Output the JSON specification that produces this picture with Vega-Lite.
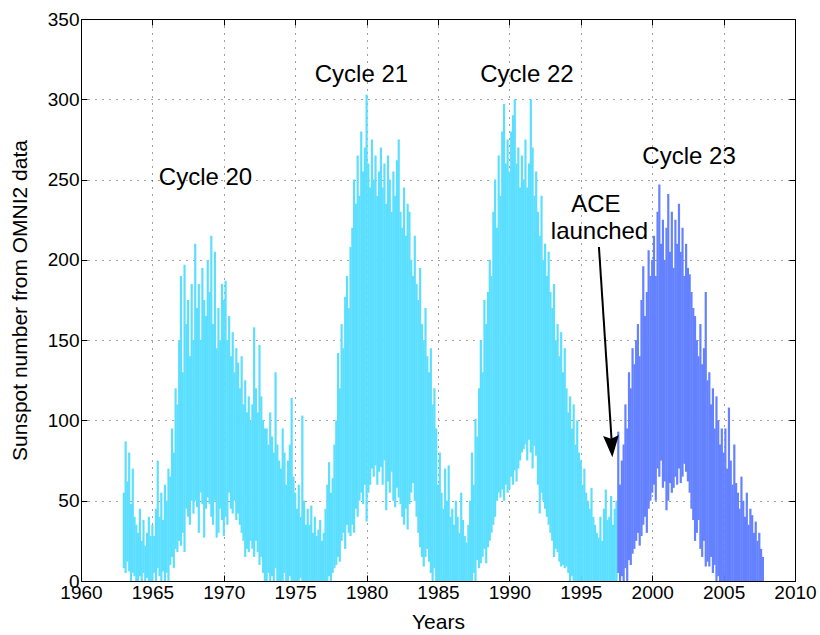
{
  "$schema": "https://vega.github.io/schema/vega-lite/v6.json",
  "width": 714,
  "height": 562,
  "autosize": "none",
  "padding": {"left": 81, "top": 19, "right": 25, "bottom": 54},
  "background": "#ffffff",
  "datasets": {
    "ssn": [
      {"t":1963.0,"lo":8,"hi":55,"s":"pre"},{"t":1963.125,"lo":5,"hi":87,"s":"pre"},{"t":1963.25,"lo":12,"hi":62,"s":"pre"},{"t":1963.375,"lo":6,"hi":80,"s":"pre"},{"t":1963.5,"lo":0,"hi":48,"s":"pre"},{"t":1963.625,"lo":5,"hi":70,"s":"pre"},{"t":1963.75,"lo":3,"hi":40,"s":"pre"},{"t":1963.875,"lo":0,"hi":35,"s":"pre"},
      {"t":1964.0,"lo":0,"hi":30,"s":"pre"},{"t":1964.125,"lo":3,"hi":45,"s":"pre"},{"t":1964.25,"lo":0,"hi":25,"s":"pre"},{"t":1964.375,"lo":5,"hi":38,"s":"pre"},{"t":1964.5,"lo":0,"hi":22,"s":"pre"},{"t":1964.625,"lo":2,"hi":30,"s":"pre"},{"t":1964.75,"lo":0,"hi":40,"s":"pre"},{"t":1964.875,"lo":0,"hi":28,"s":"pre"},
      {"t":1965.0,"lo":0,"hi":35,"s":"pre"},{"t":1965.125,"lo":5,"hi":28,"s":"pre"},{"t":1965.25,"lo":0,"hi":45,"s":"pre"},{"t":1965.375,"lo":8,"hi":75,"s":"pre"},{"t":1965.5,"lo":3,"hi":40,"s":"pre"},{"t":1965.625,"lo":0,"hi":55,"s":"pre"},{"t":1965.75,"lo":6,"hi":38,"s":"pre"},{"t":1965.875,"lo":0,"hi":60,"s":"pre"},
      {"t":1966.0,"lo":5,"hi":50,"s":"pre"},{"t":1966.125,"lo":0,"hi":70,"s":"pre"},{"t":1966.25,"lo":10,"hi":65,"s":"pre"},{"t":1966.375,"lo":15,"hi":95,"s":"pre"},{"t":1966.5,"lo":8,"hi":80,"s":"pre"},{"t":1966.625,"lo":20,"hi":120,"s":"pre"},{"t":1966.75,"lo":18,"hi":110,"s":"pre"},{"t":1966.875,"lo":25,"hi":150,"s":"pre"},
      {"t":1967.0,"lo":22,"hi":190,"s":"pre"},{"t":1967.125,"lo":30,"hi":130,"s":"pre"},{"t":1967.25,"lo":18,"hi":197,"s":"pre"},{"t":1967.375,"lo":45,"hi":160,"s":"pre"},{"t":1967.5,"lo":40,"hi":175,"s":"pre"},{"t":1967.625,"lo":35,"hi":140,"s":"pre"},{"t":1967.75,"lo":50,"hi":185,"s":"pre"},{"t":1967.875,"lo":42,"hi":150,"s":"pre"},
      {"t":1968.0,"lo":50,"hi":210,"s":"pre"},{"t":1968.125,"lo":46,"hi":170,"s":"pre"},{"t":1968.25,"lo":30,"hi":185,"s":"pre"},{"t":1968.375,"lo":55,"hi":150,"s":"pre"},{"t":1968.5,"lo":48,"hi":195,"s":"pre"},{"t":1968.625,"lo":27,"hi":175,"s":"pre"},{"t":1968.75,"lo":45,"hi":165,"s":"pre"},{"t":1968.875,"lo":52,"hi":200,"s":"pre"},
      {"t":1969.0,"lo":48,"hi":180,"s":"pre"},{"t":1969.125,"lo":40,"hi":215,"s":"pre"},{"t":1969.25,"lo":35,"hi":160,"s":"pre"},{"t":1969.375,"lo":50,"hi":205,"s":"pre"},{"t":1969.5,"lo":27,"hi":145,"s":"pre"},{"t":1969.625,"lo":30,"hi":170,"s":"pre"},{"t":1969.75,"lo":45,"hi":150,"s":"pre"},{"t":1969.875,"lo":38,"hi":185,"s":"pre"},
      {"t":1970.0,"lo":28,"hi":175,"s":"pre"},{"t":1970.125,"lo":40,"hi":187,"s":"pre"},{"t":1970.25,"lo":35,"hi":150,"s":"pre"},{"t":1970.375,"lo":55,"hi":165,"s":"pre"},{"t":1970.5,"lo":45,"hi":140,"s":"pre"},{"t":1970.625,"lo":42,"hi":155,"s":"pre"},{"t":1970.75,"lo":50,"hi":130,"s":"pre"},{"t":1970.875,"lo":38,"hi":145,"s":"pre"},
      {"t":1971.0,"lo":42,"hi":136,"s":"pre"},{"t":1971.125,"lo":35,"hi":120,"s":"pre"},{"t":1971.25,"lo":30,"hi":140,"s":"pre"},{"t":1971.375,"lo":25,"hi":110,"s":"pre"},{"t":1971.5,"lo":15,"hi":125,"s":"pre"},{"t":1971.625,"lo":20,"hi":105,"s":"pre"},{"t":1971.75,"lo":18,"hi":115,"s":"pre"},{"t":1971.875,"lo":25,"hi":100,"s":"pre"},
      {"t":1972.0,"lo":20,"hi":110,"s":"pre"},{"t":1972.125,"lo":15,"hi":158,"s":"pre"},{"t":1972.25,"lo":25,"hi":120,"s":"pre"},{"t":1972.375,"lo":18,"hi":105,"s":"pre"},{"t":1972.5,"lo":10,"hi":147,"s":"pre"},{"t":1972.625,"lo":15,"hi":115,"s":"pre"},{"t":1972.75,"lo":5,"hi":100,"s":"pre"},{"t":1972.875,"lo":0,"hi":95,"s":"pre"},
      {"t":1973.0,"lo":0,"hi":95,"s":"pre"},{"t":1973.125,"lo":5,"hi":85,"s":"pre"},{"t":1973.25,"lo":0,"hi":105,"s":"pre"},{"t":1973.375,"lo":3,"hi":90,"s":"pre"},{"t":1973.5,"lo":0,"hi":80,"s":"pre"},{"t":1973.625,"lo":8,"hi":130,"s":"pre"},{"t":1973.75,"lo":0,"hi":85,"s":"pre"},{"t":1973.875,"lo":0,"hi":75,"s":"pre"},
      {"t":1974.0,"lo":0,"hi":70,"s":"pre"},{"t":1974.125,"lo":0,"hi":95,"s":"pre"},{"t":1974.25,"lo":5,"hi":80,"s":"pre"},{"t":1974.375,"lo":0,"hi":60,"s":"pre"},{"t":1974.5,"lo":0,"hi":75,"s":"pre"},{"t":1974.625,"lo":3,"hi":85,"s":"pre"},{"t":1974.75,"lo":0,"hi":114,"s":"pre"},{"t":1974.875,"lo":0,"hi":65,"s":"pre"},
      {"t":1975.0,"lo":0,"hi":55,"s":"pre"},{"t":1975.125,"lo":0,"hi":45,"s":"pre"},{"t":1975.25,"lo":0,"hi":60,"s":"pre"},{"t":1975.375,"lo":2,"hi":40,"s":"pre"},{"t":1975.5,"lo":0,"hi":103,"s":"pre"},{"t":1975.625,"lo":0,"hi":50,"s":"pre"},{"t":1975.75,"lo":0,"hi":35,"s":"pre"},{"t":1975.875,"lo":0,"hi":45,"s":"pre"},
      {"t":1976.0,"lo":0,"hi":35,"s":"pre"},{"t":1976.125,"lo":0,"hi":47,"s":"pre"},{"t":1976.25,"lo":0,"hi":30,"s":"pre"},{"t":1976.375,"lo":0,"hi":40,"s":"pre"},{"t":1976.5,"lo":0,"hi":28,"s":"pre"},{"t":1976.625,"lo":0,"hi":32,"s":"pre"},{"t":1976.75,"lo":0,"hi":38,"s":"pre"},{"t":1976.875,"lo":0,"hi":25,"s":"pre"},
      {"t":1977.0,"lo":0,"hi":30,"s":"pre"},{"t":1977.125,"lo":0,"hi":45,"s":"pre"},{"t":1977.25,"lo":0,"hi":60,"s":"pre"},{"t":1977.375,"lo":3,"hi":74,"s":"pre"},{"t":1977.5,"lo":0,"hi":55,"s":"pre"},{"t":1977.625,"lo":5,"hi":64,"s":"pre"},{"t":1977.75,"lo":8,"hi":85,"s":"pre"},{"t":1977.875,"lo":10,"hi":100,"s":"pre"},
      {"t":1978.0,"lo":15,"hi":142,"s":"pre"},{"t":1978.125,"lo":12,"hi":120,"s":"pre"},{"t":1978.25,"lo":25,"hi":160,"s":"pre"},{"t":1978.375,"lo":30,"hi":145,"s":"pre"},{"t":1978.5,"lo":20,"hi":177,"s":"pre"},{"t":1978.625,"lo":35,"hi":190,"s":"pre"},{"t":1978.75,"lo":30,"hi":170,"s":"pre"},{"t":1978.875,"lo":28,"hi":208,"s":"pre"},
      {"t":1979.0,"lo":35,"hi":220,"s":"pre"},{"t":1979.125,"lo":30,"hi":250,"s":"pre"},{"t":1979.25,"lo":45,"hi":235,"s":"pre"},{"t":1979.375,"lo":40,"hi":265,"s":"pre"},{"t":1979.5,"lo":50,"hi":240,"s":"pre"},{"t":1979.625,"lo":55,"hi":280,"s":"pre"},{"t":1979.75,"lo":48,"hi":255,"s":"pre"},{"t":1979.875,"lo":60,"hi":270,"s":"pre"},
      {"t":1980.0,"lo":37,"hi":303,"s":"pre"},{"t":1980.125,"lo":55,"hi":260,"s":"pre"},{"t":1980.25,"lo":60,"hi":245,"s":"pre"},{"t":1980.375,"lo":70,"hi":275,"s":"pre"},{"t":1980.5,"lo":65,"hi":250,"s":"pre"},{"t":1980.625,"lo":72,"hi":265,"s":"pre"},{"t":1980.75,"lo":60,"hi":240,"s":"pre"},{"t":1980.875,"lo":68,"hi":255,"s":"pre"},
      {"t":1981.0,"lo":71,"hi":270,"s":"pre"},{"t":1981.125,"lo":60,"hi":245,"s":"pre"},{"t":1981.25,"lo":75,"hi":260,"s":"pre"},{"t":1981.375,"lo":44,"hi":235,"s":"pre"},{"t":1981.5,"lo":62,"hi":265,"s":"pre"},{"t":1981.625,"lo":55,"hi":250,"s":"pre"},{"t":1981.75,"lo":68,"hi":230,"s":"pre"},{"t":1981.875,"lo":50,"hi":255,"s":"pre"},
      {"t":1982.0,"lo":46,"hi":240,"s":"pre"},{"t":1982.125,"lo":58,"hi":262,"s":"pre"},{"t":1982.25,"lo":52,"hi":275,"s":"pre"},{"t":1982.375,"lo":48,"hi":230,"s":"pre"},{"t":1982.5,"lo":40,"hi":220,"s":"pre"},{"t":1982.625,"lo":35,"hi":245,"s":"pre"},{"t":1982.75,"lo":45,"hi":215,"s":"pre"},{"t":1982.875,"lo":32,"hi":235,"s":"pre"},
      {"t":1983.0,"lo":48,"hi":230,"s":"pre"},{"t":1983.125,"lo":55,"hi":200,"s":"pre"},{"t":1983.25,"lo":61,"hi":190,"s":"pre"},{"t":1983.375,"lo":50,"hi":215,"s":"pre"},{"t":1983.5,"lo":40,"hi":185,"s":"pre"},{"t":1983.625,"lo":30,"hi":175,"s":"pre"},{"t":1983.75,"lo":21,"hi":195,"s":"pre"},{"t":1983.875,"lo":15,"hi":160,"s":"pre"},
      {"t":1984.0,"lo":9,"hi":150,"s":"pre"},{"t":1984.125,"lo":15,"hi":170,"s":"pre"},{"t":1984.25,"lo":20,"hi":140,"s":"pre"},{"t":1984.375,"lo":12,"hi":130,"s":"pre"},{"t":1984.5,"lo":5,"hi":145,"s":"pre"},{"t":1984.625,"lo":0,"hi":110,"s":"pre"},{"t":1984.75,"lo":8,"hi":120,"s":"pre"},{"t":1984.875,"lo":0,"hi":95,"s":"pre"},
      {"t":1985.0,"lo":0,"hi":60,"s":"pre"},{"t":1985.125,"lo":0,"hi":80,"s":"pre"},{"t":1985.25,"lo":0,"hi":55,"s":"pre"},{"t":1985.375,"lo":0,"hi":45,"s":"pre"},{"t":1985.5,"lo":0,"hi":70,"s":"pre"},{"t":1985.625,"lo":0,"hi":50,"s":"pre"},{"t":1985.75,"lo":0,"hi":72,"s":"pre"},{"t":1985.875,"lo":0,"hi":40,"s":"pre"},
      {"t":1986.0,"lo":0,"hi":45,"s":"pre"},{"t":1986.125,"lo":0,"hi":35,"s":"pre"},{"t":1986.25,"lo":0,"hi":50,"s":"pre"},{"t":1986.375,"lo":0,"hi":40,"s":"pre"},{"t":1986.5,"lo":0,"hi":30,"s":"pre"},{"t":1986.625,"lo":0,"hi":55,"s":"pre"},{"t":1986.75,"lo":0,"hi":38,"s":"pre"},{"t":1986.875,"lo":0,"hi":28,"s":"pre"},
      {"t":1987.0,"lo":0,"hi":24,"s":"pre"},{"t":1987.125,"lo":0,"hi":35,"s":"pre"},{"t":1987.25,"lo":0,"hi":50,"s":"pre"},{"t":1987.375,"lo":0,"hi":80,"s":"pre"},{"t":1987.5,"lo":5,"hi":60,"s":"pre"},{"t":1987.625,"lo":0,"hi":101,"s":"pre"},{"t":1987.75,"lo":13,"hi":90,"s":"pre"},{"t":1987.875,"lo":8,"hi":120,"s":"pre"},
      {"t":1988.0,"lo":11,"hi":150,"s":"pre"},{"t":1988.125,"lo":15,"hi":130,"s":"pre"},{"t":1988.25,"lo":20,"hi":175,"s":"pre"},{"t":1988.375,"lo":11,"hi":160,"s":"pre"},{"t":1988.5,"lo":21,"hi":180,"s":"pre"},{"t":1988.625,"lo":25,"hi":200,"s":"pre"},{"t":1988.75,"lo":30,"hi":190,"s":"pre"},{"t":1988.875,"lo":35,"hi":230,"s":"pre"},
      {"t":1989.0,"lo":40,"hi":250,"s":"pre"},{"t":1989.125,"lo":50,"hi":220,"s":"pre"},{"t":1989.25,"lo":55,"hi":265,"s":"pre"},{"t":1989.375,"lo":52,"hi":240,"s":"pre"},{"t":1989.5,"lo":57,"hi":280,"s":"pre"},{"t":1989.625,"lo":50,"hi":297,"s":"pre"},{"t":1989.75,"lo":60,"hi":260,"s":"pre"},{"t":1989.875,"lo":55,"hi":275,"s":"pre"},
      {"t":1990.0,"lo":57,"hi":255,"s":"pre"},{"t":1990.125,"lo":65,"hi":280,"s":"pre"},{"t":1990.25,"lo":60,"hi":290,"s":"pre"},{"t":1990.375,"lo":69,"hi":300,"s":"pre"},{"t":1990.5,"lo":62,"hi":260,"s":"pre"},{"t":1990.625,"lo":70,"hi":270,"s":"pre"},{"t":1990.75,"lo":75,"hi":245,"s":"pre"},{"t":1990.875,"lo":80,"hi":265,"s":"pre"},
      {"t":1991.0,"lo":82,"hi":250,"s":"pre"},{"t":1991.125,"lo":85,"hi":275,"s":"pre"},{"t":1991.25,"lo":75,"hi":245,"s":"pre"},{"t":1991.375,"lo":88,"hi":260,"s":"pre"},{"t":1991.5,"lo":80,"hi":300,"s":"pre"},{"t":1991.625,"lo":70,"hi":270,"s":"pre"},{"t":1991.75,"lo":84,"hi":240,"s":"pre"},{"t":1991.875,"lo":78,"hi":255,"s":"pre"},
      {"t":1992.0,"lo":60,"hi":230,"s":"pre"},{"t":1992.125,"lo":42,"hi":215,"s":"pre"},{"t":1992.25,"lo":55,"hi":240,"s":"pre"},{"t":1992.375,"lo":50,"hi":200,"s":"pre"},{"t":1992.5,"lo":45,"hi":210,"s":"pre"},{"t":1992.625,"lo":40,"hi":190,"s":"pre"},{"t":1992.75,"lo":35,"hi":205,"s":"pre"},{"t":1992.875,"lo":30,"hi":180,"s":"pre"},
      {"t":1993.0,"lo":25,"hi":170,"s":"pre"},{"t":1993.125,"lo":15,"hi":185,"s":"pre"},{"t":1993.25,"lo":20,"hi":150,"s":"pre"},{"t":1993.375,"lo":18,"hi":160,"s":"pre"},{"t":1993.5,"lo":12,"hi":140,"s":"pre"},{"t":1993.625,"lo":9,"hi":155,"s":"pre"},{"t":1993.75,"lo":10,"hi":130,"s":"pre"},{"t":1993.875,"lo":8,"hi":145,"s":"pre"},
      {"t":1994.0,"lo":9,"hi":120,"s":"pre"},{"t":1994.125,"lo":5,"hi":105,"s":"pre"},{"t":1994.25,"lo":0,"hi":115,"s":"pre"},{"t":1994.375,"lo":3,"hi":95,"s":"pre"},{"t":1994.5,"lo":0,"hi":110,"s":"pre"},{"t":1994.625,"lo":0,"hi":85,"s":"pre"},{"t":1994.75,"lo":0,"hi":100,"s":"pre"},{"t":1994.875,"lo":0,"hi":80,"s":"pre"},
      {"t":1995.0,"lo":0,"hi":75,"s":"pre"},{"t":1995.125,"lo":0,"hi":60,"s":"pre"},{"t":1995.25,"lo":0,"hi":70,"s":"pre"},{"t":1995.375,"lo":0,"hi":55,"s":"pre"},{"t":1995.5,"lo":0,"hi":50,"s":"pre"},{"t":1995.625,"lo":0,"hi":45,"s":"pre"},{"t":1995.75,"lo":0,"hi":58,"s":"pre"},{"t":1995.875,"lo":0,"hi":40,"s":"pre"},
      {"t":1996.0,"lo":0,"hi":35,"s":"pre"},{"t":1996.125,"lo":0,"hi":30,"s":"pre"},{"t":1996.25,"lo":0,"hi":27,"s":"pre"},{"t":1996.375,"lo":0,"hi":40,"s":"pre"},{"t":1996.5,"lo":0,"hi":25,"s":"pre"},{"t":1996.625,"lo":0,"hi":45,"s":"pre"},{"t":1996.75,"lo":0,"hi":57,"s":"pre"},{"t":1996.875,"lo":0,"hi":38,"s":"pre"},
      {"t":1997.0,"lo":0,"hi":40,"s":"pre"},{"t":1997.125,"lo":0,"hi":53,"s":"pre"},{"t":1997.25,"lo":0,"hi":35,"s":"pre"},{"t":1997.375,"lo":0,"hi":45,"s":"pre"},{"t":1997.5,"lo":0,"hi":50,"s":"pre"},{"t":1997.625,"lo":5,"hi":93,"s":"ace"},{"t":1997.75,"lo":0,"hi":60,"s":"ace"},{"t":1997.875,"lo":3,"hi":75,"s":"ace"},
      {"t":1998.0,"lo":0,"hi":85,"s":"ace"},{"t":1998.125,"lo":8,"hi":110,"s":"ace"},{"t":1998.25,"lo":0,"hi":95,"s":"ace"},{"t":1998.375,"lo":13,"hi":130,"s":"ace"},{"t":1998.5,"lo":10,"hi":120,"s":"ace"},{"t":1998.625,"lo":17,"hi":145,"s":"ace"},{"t":1998.75,"lo":20,"hi":135,"s":"ace"},{"t":1998.875,"lo":25,"hi":150,"s":"ace"},
      {"t":1999.0,"lo":30,"hi":160,"s":"ace"},{"t":1999.125,"lo":22,"hi":140,"s":"ace"},{"t":1999.25,"lo":28,"hi":175,"s":"ace"},{"t":1999.375,"lo":35,"hi":196,"s":"ace"},{"t":1999.5,"lo":40,"hi":165,"s":"ace"},{"t":1999.625,"lo":30,"hi":180,"s":"ace"},{"t":1999.75,"lo":45,"hi":206,"s":"ace"},{"t":1999.875,"lo":50,"hi":190,"s":"ace"},
      {"t":2000.0,"lo":55,"hi":200,"s":"ace"},{"t":2000.125,"lo":60,"hi":215,"s":"ace"},{"t":2000.25,"lo":50,"hi":190,"s":"ace"},{"t":2000.375,"lo":70,"hi":230,"s":"ace"},{"t":2000.5,"lo":65,"hi":247,"s":"ace"},{"t":2000.625,"lo":75,"hi":210,"s":"ace"},{"t":2000.75,"lo":58,"hi":225,"s":"ace"},{"t":2000.875,"lo":62,"hi":200,"s":"ace"},
      {"t":2001.0,"lo":44,"hi":220,"s":"ace"},{"t":2001.125,"lo":50,"hi":241,"s":"ace"},{"t":2001.25,"lo":61,"hi":205,"s":"ace"},{"t":2001.375,"lo":55,"hi":230,"s":"ace"},{"t":2001.5,"lo":58,"hi":195,"s":"ace"},{"t":2001.625,"lo":65,"hi":225,"s":"ace"},{"t":2001.75,"lo":60,"hi":210,"s":"ace"},{"t":2001.875,"lo":70,"hi":235,"s":"ace"},
      {"t":2002.0,"lo":61,"hi":205,"s":"ace"},{"t":2002.125,"lo":65,"hi":220,"s":"ace"},{"t":2002.25,"lo":73,"hi":190,"s":"ace"},{"t":2002.375,"lo":68,"hi":210,"s":"ace"},{"t":2002.5,"lo":62,"hi":195,"s":"ace"},{"t":2002.625,"lo":55,"hi":191,"s":"ace"},{"t":2002.75,"lo":45,"hi":180,"s":"ace"},{"t":2002.875,"lo":38,"hi":170,"s":"ace"},
      {"t":2003.0,"lo":25,"hi":165,"s":"ace"},{"t":2003.125,"lo":30,"hi":150,"s":"ace"},{"t":2003.25,"lo":38,"hi":140,"s":"ace"},{"t":2003.375,"lo":20,"hi":160,"s":"ace"},{"t":2003.5,"lo":15,"hi":135,"s":"ace"},{"t":2003.625,"lo":25,"hi":145,"s":"ace"},{"t":2003.75,"lo":9,"hi":180,"s":"ace"},{"t":2003.875,"lo":12,"hi":125,"s":"ace"},
      {"t":2004.0,"lo":9,"hi":130,"s":"ace"},{"t":2004.125,"lo":15,"hi":110,"s":"ace"},{"t":2004.25,"lo":5,"hi":120,"s":"ace"},{"t":2004.375,"lo":10,"hi":95,"s":"ace"},{"t":2004.5,"lo":0,"hi":115,"s":"ace"},{"t":2004.625,"lo":3,"hi":100,"s":"ace"},{"t":2004.75,"lo":0,"hi":85,"s":"ace"},{"t":2004.875,"lo":0,"hi":95,"s":"ace"},
      {"t":2005.0,"lo":0,"hi":80,"s":"ace"},{"t":2005.125,"lo":0,"hi":95,"s":"ace"},{"t":2005.25,"lo":0,"hi":70,"s":"ace"},{"t":2005.375,"lo":0,"hi":108,"s":"ace"},{"t":2005.5,"lo":0,"hi":75,"s":"ace"},{"t":2005.625,"lo":0,"hi":60,"s":"ace"},{"t":2005.75,"lo":0,"hi":85,"s":"ace"},{"t":2005.875,"lo":0,"hi":61,"s":"ace"},
      {"t":2006.0,"lo":0,"hi":55,"s":"ace"},{"t":2006.125,"lo":0,"hi":45,"s":"ace"},{"t":2006.25,"lo":0,"hi":65,"s":"ace"},{"t":2006.375,"lo":0,"hi":50,"s":"ace"},{"t":2006.5,"lo":0,"hi":40,"s":"ace"},{"t":2006.625,"lo":0,"hi":55,"s":"ace"},{"t":2006.75,"lo":0,"hi":35,"s":"ace"},{"t":2006.875,"lo":0,"hi":45,"s":"ace"},
      {"t":2007.0,"lo":0,"hi":41,"s":"ace"},{"t":2007.125,"lo":0,"hi":30,"s":"ace"},{"t":2007.25,"lo":0,"hi":37,"s":"ace"},{"t":2007.375,"lo":0,"hi":25,"s":"ace"},{"t":2007.5,"lo":0,"hi":30,"s":"ace"},{"t":2007.625,"lo":0,"hi":20,"s":"ace"},{"t":2007.75,"lo":0,"hi":15,"s":"ace"}
    ],
    "notes": [
      {"t":1968.72,"v":246.6,"label":"Cycle 20"},
      {"t":1979.64,"v":311,"label":"Cycle 21"},
      {"t":1991.23,"v":311,"label":"Cycle 22"},
      {"t":2002.58,"v":260,"label":"Cycle 23"},
      {"t":1996.06,"v":230,"label":"ACE"},
      {"t":1996.31,"v":212.8,"label":"launched"}
    ],
    "arrow": [{"t1":1996.27,"v1":208,"t2":1997.17,"v2":86}],
    "head": [{"t":1997.21,"v":77}]
  },
  "layer": [
    {
      "layer": [
        {
          "data": {"name": "ssn"},
          "mark": {"type": "rule", "strokeWidth": 2.2},
          "encoding": {
            "x": {"field": "t", "type": "quantitative", "title": "Years",
                  "scale": {"domain": [1960, 2010], "nice": false, "zero": false},
                  "axis": {"values": [1960,1965,1970,1975,1980,1985,1990,1995,2000,2005,2010], "format": "d", "labelFlush": false, "titlePadding": 9}},
            "y": {"field": "lo", "type": "quantitative", "title": "Sunspot number from OMNI2 data",
                  "scale": {"domain": [0, 350], "nice": false},
                  "axis": {"values": [0,50,100,150,200,250,300,350], "labelFlush": false, "titlePadding": 17}},
            "y2": {"field": "hi"},
            "color": {"field": "s", "type": "nominal", "legend": null,
                      "scale": {"domain": ["pre", "ace"], "range": ["#5CDFFF", "#6482FF"]}}
          }
        },
        {
          "data": {"name": "notes"},
          "mark": {"type": "text", "font": "Liberation Sans", "fontSize": 24, "align": "center", "baseline": "alphabetic", "color": "#000"},
          "encoding": {
            "x": {"field": "t", "type": "quantitative", "title": "Years"},
            "y": {"field": "v", "type": "quantitative", "title": "Sunspot number from OMNI2 data"},
            "text": {"field": "label"}
          }
        },
        {
          "data": {"name": "arrow"},
          "mark": {"type": "rule", "color": "#000", "strokeWidth": 2},
          "encoding": {
            "x": {"field": "t1", "type": "quantitative", "title": "Years"},
            "y": {"field": "v1", "type": "quantitative", "title": "Sunspot number from OMNI2 data"},
            "x2": {"field": "t2"},
            "y2": {"field": "v2"}
          }
        },
        {
          "data": {"name": "head"},
          "mark": {"type": "point", "shape": "M0,0L-0.72,-2L0,-1.7L0.72,-2Z", "size": 484, "filled": true, "color": "#000", "opacity": 1, "angle": -3.6, "strokeWidth": 0},
          "encoding": {
            "x": {"field": "t", "type": "quantitative", "title": "Years"},
            "y": {"field": "v", "type": "quantitative", "title": "Sunspot number from OMNI2 data"}
          }
        }
      ]
    },
    {
      "data": {"name": "head"},
      "mark": {"type": "point", "opacity": 0},
      "encoding": {
        "x": {"field": "t", "type": "quantitative",
              "axis": {"orient": "top", "values": [1960,1965,1970,1975,1980,1985,1990,1995,2000,2005,2010], "labels": false, "title": null, "grid": false, "domain": false}},
        "y": {"field": "v", "type": "quantitative",
              "axis": {"orient": "right", "values": [0,50,100,150,200,250,300,350], "labels": false, "title": null, "grid": false, "domain": false}}
      }
    }
  ],
  "resolve": {"axis": {"x": "independent", "y": "independent"}},
  "config": {
    "view": {"stroke": "#000", "strokeWidth": 1},
    "axis": {
      "labelFont": "Liberation Sans", "labelFontSize": 19, "labelColor": "#000",
      "titleFont": "Liberation Sans", "titleFontSize": 21, "titleFontWeight": "normal", "titleColor": "#000",
      "domainColor": "#000", "domainWidth": 1, "tickColor": "#000", "tickSize": -6, "tickWidth": 1,
      "grid": true, "gridColor": "#000", "gridDash": [1, 6], "gridOpacity": 0.75, "gridWidth": 1,
      "labelPadding": 8
    }
  }
}
